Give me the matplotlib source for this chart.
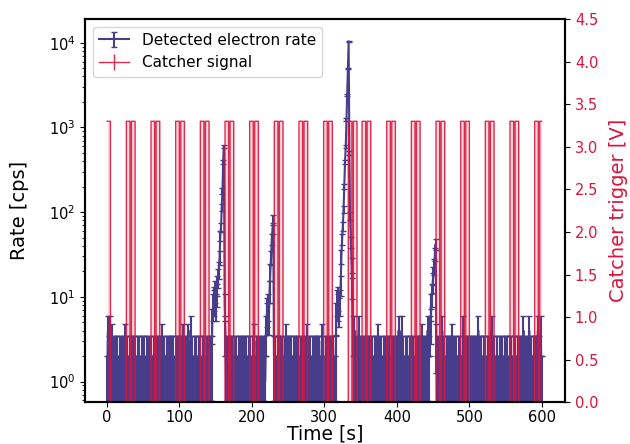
import numpy as np
import matplotlib.pyplot as plt

# detected counts per 1 s bin (background), one string per minute
bg_rows = [
    "1421413121 2212211122 2112312211 1222112221 1122211122 2211122211",
    "1211122212 1122231122 1112221122 2211122221 1222312211 2231142211",
    "1222112221 1122211122 1122212211 1222211222 2211122112 2221112221",
    "1122201122 2211122211 1223111222 1121122112 2211122211 1221122211",
    "2211123112 2222111221 1222111221 1122231122 2111222112 2221113211",
    "1122211221 2211122111 2212211222 1122111222 2412211412 1122211221",
    "2211221112 2221312211 1122211222 1112221122 2141224121 1122211221",
    "1221112222 1122312211 2141221112 2221112211 2141221122 1122213211",
    "2211122211 1412221122 1122211221 1241222112 2211122211 4122211221",
    "1122211122 2211122211 1222112221 2211412221 2141221122 2122412141",
]

# the four bursts, counts per second starting at the given second
peak_starts = [145, 219, 316, 445]
peak_counts = [
    [5, 8, 10, 9, 12, 8, 11, 14, 17, 21, 29, 53, 66, 114, 178, 388, 593, 8, 4],
    [4, 6, 7, 8, 6, 12, 20, 29, 48, 63, 83, 2],
    [6, 9, 8, 10, 7, 9, 14, 30, 48, 68, 108, 200, 390, 600, 1240, 2430, 5000,
     10400, 500, 90, 44, 24, 13, 4],
    [4, 5, 8, 11, 15, 18, 23, 32, 42, 3],
]

# catcher trigger: double pulses of 3.3 V centred on these seconds
pulse_centres = [-1, 33, 67, 101, 135, 169, 203, 237, 271, 305, 339, 358,
                 392, 426, 460, 494, 528, 562, 596]
trigger_level = 3.3

time = np.arange(600) + 0.5
counts = np.array([int(c) for c in ''.join(bg_rows).replace(' ', '')], dtype=float)
for start, vals in zip(peak_starts, peak_counts):
    counts[start:start + len(vals)] = vals
err = np.sqrt(counts)

trigger = np.zeros(len(time))
for c in pulse_centres:
    for lo, hi in [(c - 6, c - 1), (c + 1, c + 6)]:
        trigger[max(lo, 0):max(min(hi, len(time)), 0)] = trigger_level

fig, ax = plt.subplots(figsize=(6.3, 4.44), dpi=100)
fig.subplots_adjust(left=0.135, right=0.897, top=0.957, bottom=0.094)

h1 = ax.errorbar(time, counts, yerr=err, color='darkslateblue', lw=1.5,
                 elinewidth=1.5, capsize=2, label='Detected electron rate')
ax.set_yscale('log')
ax.set_ylim(0.57, 1.9e4)
ax.set_xlim(-30, 632)
ax.set_xlabel('Time [s]', fontsize=13.5, labelpad=0)
ax.set_ylabel('Rate [cps]', fontsize=14, labelpad=14)
ax.tick_params(labelsize=10.5)
ax.tick_params(axis='x', pad=2)

ax2 = ax.twinx()
ax2.fill_between(time, trigger, step='mid', color='crimson', alpha=0.15, lw=0)
h2 = ax2.errorbar(time, trigger, yerr=np.zeros(len(time)), color='crimson',
                  lw=1, alpha=0.9, drawstyle='steps-mid', capsize=0,
                  label='Catcher signal')
ax2.set_ylim(0, 4.5)
ax2.set_yticks(np.arange(0, 4.51, 0.5))
ax2.set_ylabel('Catcher trigger [V]', color='crimson', fontsize=14, labelpad=8)
ax2.tick_params(axis='y', labelcolor='crimson', labelsize=10.5)

for a in (ax, ax2):
    for s in a.spines.values():
        s.set_linewidth(1.5)

ax2.legend([h1, h2], ['Detected electron rate', 'Catcher signal'],
           loc='upper left', fontsize=11)

fig.savefig('out.png')
